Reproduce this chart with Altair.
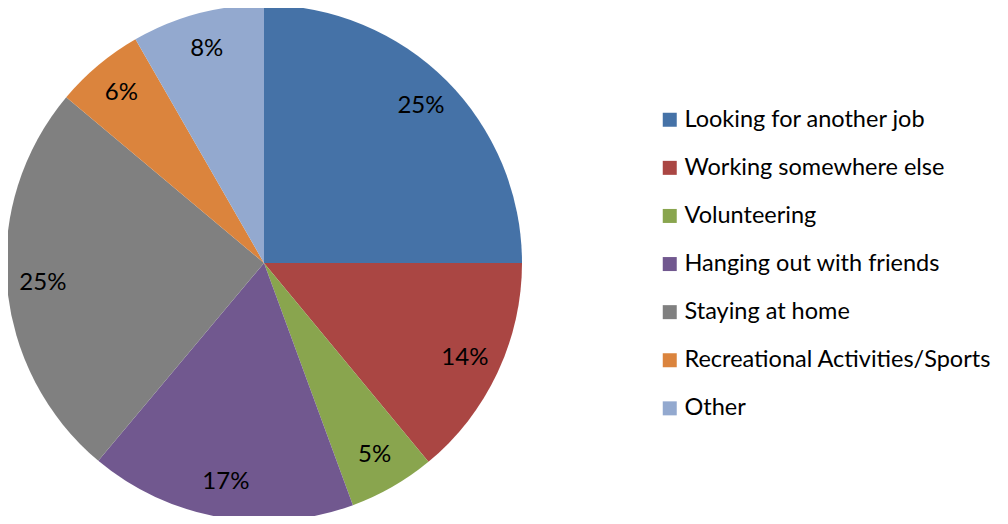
import altair as alt
import pandas as pd

categories = ["Looking for another job", "Working somewhere else", "Volunteering",
              "Hanging out with friends", "Staying at home",
              "Recreational Activities/Sports", "Other"]
values = [25.0, 14.0, 5.4, 16.7, 25.0, 5.6, 8.3]
labels = ["25%", "14%", "5%", "17%", "25%", "6%", "8%"]
colors = ["#4572A7", "#AA4643", "#89A54E", "#71588F", "#808080", "#DB843D", "#93A9CF"]

df = pd.DataFrame({
    "category": categories,
    "value": values,
    "label": labels,
    "idx": list(range(len(categories))),
})

FONT = "Lato"
cx, cy, R = 256, 255, 258

base = alt.Chart(df).encode(
    theta=alt.Theta("value:Q", stack=True),
    order=alt.Order("idx:Q"),
)

pie = base.mark_arc(radius=R, x=cx, y=cy).encode(
    color=alt.Color(
        "category:N",
        scale=alt.Scale(domain=categories, range=colors),
        sort=categories,
        legend=alt.Legend(
            title=None,
            orient="none",
            legendX=650,
            legendY=100,
            symbolType="square",
            symbolSize=196,
            symbolStrokeWidth=0,
            labelFontSize=23.5,
            labelFont=FONT,
            labelColor="#000000",
            labelOffset=3,
            rowPadding=23.1,
            labelLimit=400,
        ),
    )
)

text = base.mark_text(radius=222, x=cx, y=cy, fontSize=24, font=FONT, color="#000000").encode(
    text="label:N"
)

chart = alt.layer(pie, text).properties(
    width=992, height=508, padding=0, autosize=alt.AutoSizeParams(type="none")
).configure_view(stroke=None).configure(background="#ffffff")

chart.save("out.html", embed_options={"renderer": "svg", "actions": False})
